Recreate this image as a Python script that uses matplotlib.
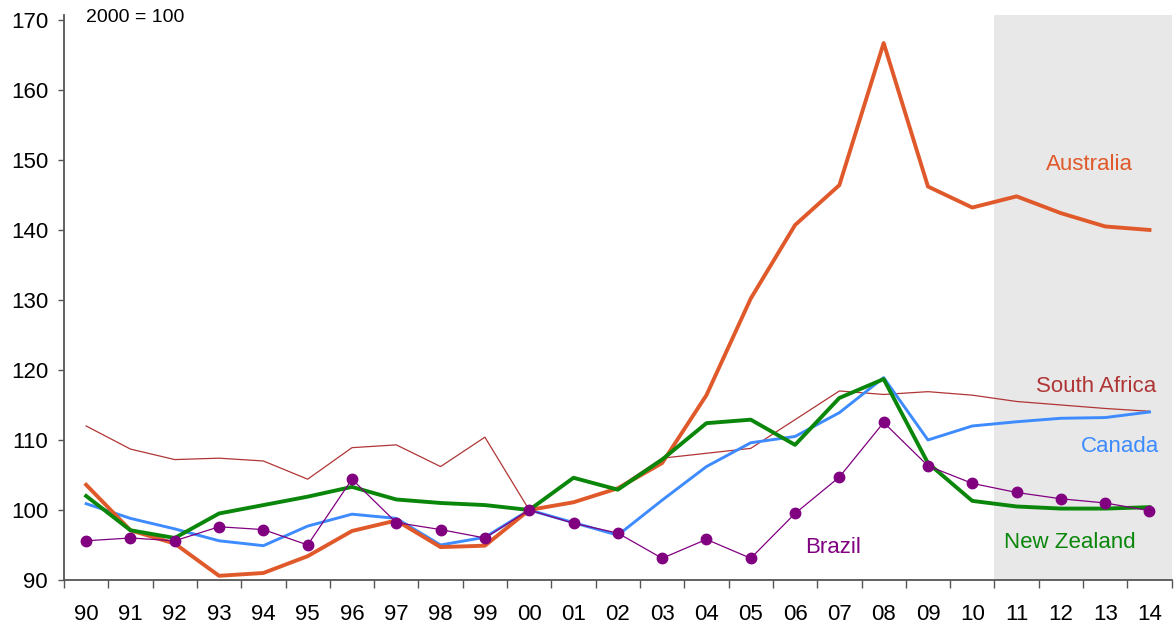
import matplotlib
matplotlib.use('Agg')
import matplotlib.pyplot as plt
import numpy as np

plt.rcParams['font.family'] = ['Liberation Sans', 'DejaVu Sans']

# index values, 2000 = 100
years = ['90', '91', '92', '93', '94', '95', '96', '97', '98', '99', '00', '01', '02',
         '03', '04', '05', '06', '07', '08', '09', '10', '11', '12', '13', '14']
australia = [103.6, 97.1, 95.2, 90.6, 91.0, 93.4, 97.0, 98.5, 94.7, 94.9, 100.0, 101.1, 103.1,
             106.7, 116.4, 130.2, 140.7, 146.4, 166.7, 146.2, 143.2, 144.8, 142.4, 140.5, 140.0]
south_africa = [112.0, 108.7, 107.2, 107.4, 107.0, 104.4, 108.9, 109.3, 106.2, 110.4, 100.0, 101.1, 103.2,
                107.4, 108.1, 108.8, 112.9, 117.0, 116.5, 116.9, 116.4, 115.5, 115.0, 114.5, 114.1]
canada = [100.9, 98.8, 97.3, 95.6, 94.9, 97.7, 99.4, 98.8, 95.0, 96.1, 100.0, 98.2, 96.4,
          101.4, 106.2, 109.6, 110.5, 113.9, 118.9, 110.0, 112.0, 112.6, 113.1, 113.2, 114.0]
new_zealand = [102.0, 97.1, 96.0, 99.5, 100.7, 101.9, 103.3, 101.5, 101.0, 100.7, 100.0, 104.6, 102.9,
               107.2, 112.4, 112.9, 109.3, 116.0, 118.7, 106.7, 101.3, 100.5, 100.2, 100.2, 100.4]
brazil = [95.6, 96.0, 95.6, 97.6, 97.2, 95.0, 104.4, 98.2, 97.2, 96.0, 100.0, 98.1, 96.7,
          93.1, 95.8, 93.1, 99.5, 104.7, 112.5, 106.3, 103.8, 102.5, 101.6, 101.0, 99.9]
forecast_start = '11'

c_aus = '#E0592A'
c_sa = '#B03535'
c_can = '#3D8BFF'
c_nz = '#0A870A'
c_bra = '#800080'

fig = plt.figure(figsize=(11.74, 6.26), dpi=100)
ax = fig.add_axes([0.0545, 0.0735, 0.9435, 0.9025])

x = np.arange(len(years))
fs = years.index(forecast_start)
ax.axvspan(fs - 0.5, len(years) - 0.5, color='#E8E8E8', lw=0, zorder=0)

ax.plot(x, south_africa, color=c_sa, lw=0.9, zorder=2)
ax.plot(x, canada, color=c_can, lw=2.1, zorder=3)
ax.plot(x, australia, color=c_aus, lw=2.8, zorder=4)
ax.plot(x, new_zealand, color=c_nz, lw=2.8, zorder=5)
ax.plot(x, brazil, color=c_bra, lw=0.9, marker='o', ms=7.5, zorder=6)

ax.set_xlim(-0.5, len(years) - 0.5)
ax.set_ylim(90, 170.7)
ax.set_yticks(range(90, 171, 10))
ax.set_xticks(x)
ax.set_xticklabels(years)
ax.set_xticks(np.arange(-0.5, len(years), 1), minor=True)

for s in ['top', 'right']:
    ax.spines[s].set_visible(False)
for s in ['left', 'bottom']:
    ax.spines[s].set_color('#555555')
    ax.spines[s].set_linewidth(1.3)

ax.tick_params(axis='y', direction='out', length=4.5, width=1, color='#555555',
               labelsize=16, pad=7)
ax.tick_params(axis='x', which='major', length=0, labelsize=16, pad=17)
ax.tick_params(axis='x', which='minor', direction='out', length=6, width=1, color='#555555')

ax.text(0.0, 170.3, '2000 = 100', fontsize=14, ha='left', va='center')
ax.text(22.64, 149.3, 'Australia', color=c_aus, fontsize=16, ha='center', va='center')
ax.text(22.8, 117.7, 'South Africa', color=c_sa, fontsize=16, ha='center', va='center')
ax.text(23.34, 109.0, 'Canada', color=c_can, fontsize=16, ha='center', va='center')
ax.text(22.2, 95.4, 'New Zealand', color=c_nz, fontsize=16, ha='center', va='center')
ax.text(16.85, 94.6, 'Brazil', color=c_bra, fontsize=16, ha='center', va='center')

fig.savefig('out.png', dpi=100)
